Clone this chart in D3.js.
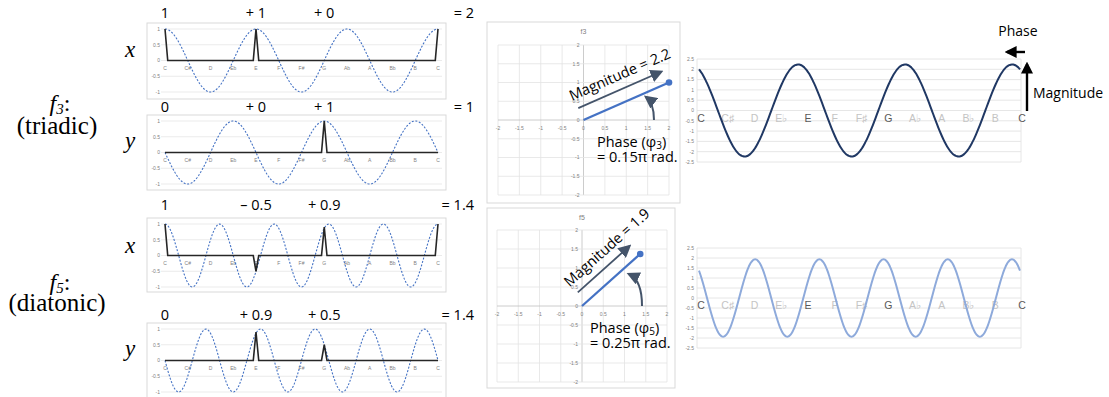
<!DOCTYPE html>
<html>
<head>
<meta charset="utf-8">
<script src="https://cdn.jsdelivr.net/npm/d3@7"></script>
<style>
  body { margin: 0; background: #fff; }
  svg { display: block; }
</style>
</head>
<body>
<svg id="fig" width="1109" height="397"></svg>
<script>
// ---- data ----
const notes = ["C","C#","D","Eb","E","F","F#","G","Ab","A","Bb","B","C"];
const noteNames = ["C","C\u266F","D","E\u266D","E","F","F\u266F","G","A\u266D","A","B\u266D","B","C"];
const chordTones = ["C","E","G"];

// pitch-class weights at each note (the black spikes)
const f3x = [1,0,0,0,1,0,0,0,0,0,0,0,1];
const f3y = [0,0,0,0,0,0,0,1,0,0,0,0,0];
const f5x = [1,0,0,0,-0.5,0,0,0.9,0,0,0,0,1];
const f5y = [0,0,0,0,0.9,0,0,0.5,0,0,0,0,0];

// the sums written over each panel
const f3xTerms = ["1","+ 1","+ 0","= 2"];
const f3yTerms = ["0","+ 0","+ 1","= 1"];
const f5xTerms = ["1","\u2013 0.5","+ 0.9","= 1.4"];
const f5yTerms = ["0","+ 0.9","+ 0.5","= 1.4"];

// resulting Fourier vectors (x, y)
const f3vec = [2, 1];
const f5vec = [1.37, 1.37];
const magLabels = ["2.2", "1.9"];
const phaseLabels = ["0.15\u03C0", "0.25\u03C0"];

const panelTicks = [1, 0.5, 0, -0.5, -1];
const planeTicks = [-2, -1.5, -1, -0.5, 0, 0.5, 1, 1.5, 2];
const waveTicks = [2.5, 2, 1.5, 1, 0.5, 0, -0.5, -1, -1.5, -2, -2.5];

const svg = d3.select("#fig");
const sans = "'Open Sans', Lato, sans-serif";
const small = "'Liberation Sans', Arial, sans-serif";
const serif = "'Liberation Serif', 'DejaVu Serif', serif";
const slate = "#44546a";

// arrow markers
const defs = svg.append("defs");
function marker(id, color, size) {
  defs.append("marker")
    .attr("id", id)
    .attr("viewBox", "0 -5 10 10")
    .attr("refX", 8).attr("refY", 0)
    .attr("markerUnits", "userSpaceOnUse")
    .attr("markerWidth", size).attr("markerHeight", size)
    .attr("orient", "auto")
    .append("path").attr("d", "M0,-5L10,0L0,5Z").attr("fill", color);
}
marker("headSlate", slate, 13);
marker("headBlack", "#000", 12);

// ---- left: the four spike panels ----
const xNote = d3.scaleLinear().domain([0, 12]).range([165, 438]);

function spikePoints(vals) {
  const pts = [];
  vals.forEach((v, k) => {
    if (v !== 0) {
      if (k > 0) pts.push([k - 0.12, 0]);
      pts.push([k, v]);
      if (k < 12) pts.push([k + 0.12, 0]);
    } else {
      pts.push([k, 0]);
    }
  });
  return pts;
}

function drawPanel(top, h, vals, freq, comp, terms, termBase) {
  const g = svg.append("g");
  const y = d3.scaleLinear().domain([-1, 1]).range([top + 69, top + 6]);
  g.append("rect").attr("x", 147).attr("y", top).attr("width", 299).attr("height", h)
    .attr("fill", "#fff").attr("stroke", "#d9d9d9").attr("stroke-width", 1);

  g.selectAll(".grid").data(panelTicks).enter().append("line")
    .attr("x1", 161).attr("x2", 442)
    .attr("y1", d => y(d)).attr("y2", d => y(d))
    .attr("stroke", "#e6e6e6").attr("stroke-width", 0.8);

  g.selectAll(".ytl").data(panelTicks).enter().append("text")
    .attr("x", 160).attr("y", d => y(d) + 1.8)
    .attr("text-anchor", "end")
    .attr("font-family", small).attr("font-size", 5).attr("fill", "#7f7f7f")
    .text(d => d);

  g.selectAll(".xtl").data(notes).enter().append("text")
    .attr("x", (d, i) => xNote(i)).attr("y", y(0) + 9)
    .attr("text-anchor", "middle")
    .attr("font-family", small).attr("font-size", 5).attr("fill", "#7f7f7f")
    .text(d => d);

  const line = d3.line().x(d => xNote(d[0])).y(d => y(d[1]));
  const basis = d3.range(0, 12.0001, 0.04).map(t => {
    const a = 2 * Math.PI * freq * t / 12;
    return [t, comp === "cos" ? Math.cos(a) : -Math.sin(a)];
  });
  g.append("path").datum(basis).attr("d", line)
    .attr("fill", "none").attr("stroke", "#4472c4").attr("stroke-width", 1.1)
    .attr("stroke-dasharray", "2,1.6");

  g.append("path").datum(spikePoints(vals)).attr("d", line)
    .attr("fill", "none").attr("stroke", "#262626").attr("stroke-width", 1.6)
    .attr("stroke-linejoin", "miter");

  // terms for C, E, G and the total
  const termX = [xNote(0), xNote(4), xNote(7)];
  g.selectAll(".term").data(terms.slice(0, 3)).enter().append("text")
    .attr("x", (d, i) => termX[i]).attr("y", termBase)
    .attr("text-anchor", "middle")
    .attr("font-family", sans).attr("font-size", 14.5).attr("fill", "#000")
    .text(d => d);
  g.append("text").attr("x", 474).attr("y", termBase)
    .attr("text-anchor", "end")
    .attr("font-family", sans).attr("font-size", 14.5).attr("fill", "#000")
    .text(terms[3]);
}

drawPanel(23, 76, f3x, 3, "cos", f3xTerms, 18);
drawPanel(115, 75, f3y, 3, "sin", f3yTerms, 112);
drawPanel(218, 74, f5x, 5, "cos", f5xTerms, 210);
drawPanel(323, 78, f5y, 5, "sin", f5yTerms, 320);

// row labels
[[57, "x"], [148, "y"], [253, "x"], [356, "y"]].forEach(([yy, t]) => {
  svg.append("text").attr("x", 130).attr("y", yy).attr("text-anchor", "middle")
    .attr("font-family", serif).attr("font-style", "italic").attr("font-size", 23)
    .text(t);
});
[[111, 134, "3", "(triadic)"], [290, 311, "5", "(diatonic)"]].forEach(([y1, y2, sub, name]) => {
  const t = svg.append("text").attr("x", 60).attr("y", y1).attr("text-anchor", "middle")
    .attr("font-family", serif).attr("font-size", 24);
  t.append("tspan").attr("font-style", "italic").text("f");
  t.append("tspan").attr("font-style", "italic").attr("font-size", 15).attr("dy", 3).text(sub);
  t.append("tspan").attr("dy", -3).text(":");
  svg.append("text").attr("x", 57).attr("y", y2).attr("text-anchor", "middle")
    .attr("font-family", serif).attr("font-size", 25).text(name);
});

// ---- middle: the Fourier vectors in the plane ----
function drawPlane(cfg) {
  const g = svg.append("g");
  const x = d3.scaleLinear().domain([-2, 2]).range(cfg.xr);
  const y = d3.scaleLinear().domain([-2, 2]).range(cfg.yr);
  g.append("rect").attr("x", cfg.box[0]).attr("y", cfg.box[1])
    .attr("width", cfg.box[2] - cfg.box[0]).attr("height", cfg.box[3] - cfg.box[1])
    .attr("fill", "#fff").attr("stroke", "#d9d9d9");
  g.append("text").attr("x", x(0)).attr("y", cfg.box[1] + 12).attr("text-anchor", "middle")
    .attr("font-family", small).attr("font-size", 7).attr("fill", "#7f7f7f").text(cfg.title);

  g.selectAll(".vg").data(planeTicks).enter().append("line")
    .attr("x1", d => x(d)).attr("x2", d => x(d)).attr("y1", y(2)).attr("y2", y(-2))
    .attr("stroke", d => d === 0 ? "#bfbfbf" : "#e3e3e3").attr("stroke-width", 0.8);
  g.selectAll(".hg").data(planeTicks).enter().append("line")
    .attr("y1", d => y(d)).attr("y2", d => y(d)).attr("x1", x(-2)).attr("x2", x(2))
    .attr("stroke", d => d === 0 ? "#bfbfbf" : "#e3e3e3").attr("stroke-width", 0.8);

  g.selectAll(".xtl").data(planeTicks).enter().append("text")
    .attr("x", d => x(d)).attr("y", y(0) + 10).attr("text-anchor", "middle")
    .attr("font-family", small).attr("font-size", 5).attr("fill", "#7f7f7f").text(d => d);
  g.selectAll(".ytl").data(planeTicks).enter().append("text")
    .attr("x", x(0) - 4).attr("y", d => y(d) + 1.8).attr("text-anchor", "end")
    .attr("font-family", small).attr("font-size", 5).attr("fill", "#7f7f7f").text(d => d);

  const [vx, vy] = cfg.vec;
  g.append("line").attr("x1", x(0)).attr("y1", y(0)).attr("x2", x(vx)).attr("y2", y(vy))
    .attr("stroke", "#4472c4").attr("stroke-width", 2.3);
  g.append("circle").attr("cx", x(vx)).attr("cy", y(vy)).attr("r", 3.3).attr("fill", "#4472c4");

  // magnitude arrow, parallel to the vector
  const dx = x(vx) - x(0), dy = y(vy) - y(0);
  const len = Math.hypot(dx, dy), ux = dx / len, uy = dy / len;
  const px = uy * 13, py = -ux * 13; // perpendicular, towards upper left
  const sx = x(0) + px + ux * cfg.trim, sy = y(0) + py + uy * cfg.trim;
  g.append("line").attr("x1", sx).attr("y1", sy)
    .attr("x2", x(vx) + px - ux * 3).attr("y2", y(vy) + py - uy * 3)
    .attr("stroke", slate).attr("stroke-width", 1.8).attr("marker-end", "url(#headSlate)");
  const ang = Math.atan2(dy, dx) * 180 / Math.PI;
  g.append("text")
    .attr("transform", `translate(${sx},${sy}) rotate(${ang})`)
    .attr("x", -3).attr("y", -9)
    .attr("font-family", sans).attr("font-size", 14.5).attr("fill", "#000")
    .text("Magnitude = " + cfg.mag);

  // phase arrow
  const [a0, a1] = cfg.phaseArrow;
  g.append("path")
    .attr("d", `M${a0[0]},${a0[1]} Q${a0[0]},${a1[1] + 6} ${a1[0]},${a1[1]}`)
    .attr("fill", "none").attr("stroke", slate).attr("stroke-width", 2)
    .attr("marker-end", "url(#headSlate)");
  const t1 = g.append("text").attr("x", cfg.phaseText[0]).attr("y", cfg.phaseText[1])
    .attr("font-family", sans).attr("font-size", 14.5).attr("fill", "#000");
  t1.append("tspan").text("Phase (\u03C6");
  t1.append("tspan").attr("font-size", 10).attr("dy", 2).text(cfg.sub);
  t1.append("tspan").attr("dy", -2).text(")");
  g.append("text").attr("x", cfg.phaseText[0]).attr("y", cfg.phaseText[1] + 15)
    .attr("font-family", sans).attr("font-size", 14.5).attr("fill", "#000")
    .text("= " + cfg.phase + " rad.");
}

drawPlane({ box: [487, 22, 680, 203], xr: [498, 669], yr: [195, 45], title: "f3",
  vec: f3vec, mag: magLabels[0], phase: phaseLabels[0], sub: "3", trim: 0,
  phaseArrow: [[654, 120], [646, 97]], phaseText: [597, 147] });
drawPlane({ box: [487, 208, 675, 388], xr: [497, 667], yr: [382, 230], title: "f5",
  vec: f5vec, mag: magLabels[1], phase: phaseLabels[1], sub: "5", trim: 6,
  phaseArrow: [[642, 306], [629, 274]], phaseText: [590, 333] });

// ---- right: the resulting sinusoids ----
const xWave = d3.scaleLinear().domain([0, 12]).range([699, 1020]);
function drawWave(cfg) {
  const g = svg.append("g");
  const y = d3.scaleLinear().domain([-2.5, 2.5]).range([cfg.bottom, cfg.top]);
  g.selectAll(".hg").data(waveTicks).enter().append("line")
    .attr("x1", 697).attr("x2", 1021).attr("y1", d => y(d)).attr("y2", d => y(d))
    .attr("stroke", "#e3e3e3").attr("stroke-width", 0.9);
  [697, 1021].forEach(xx => g.append("line").attr("x1", xx).attr("x2", xx)
    .attr("y1", cfg.top).attr("y2", cfg.bottom).attr("stroke", "#e3e3e3").attr("stroke-width", 0.9));
  g.selectAll(".ytl").data(waveTicks).enter().append("text")
    .attr("x", 694).attr("y", d => y(d) + 1.8).attr("text-anchor", "end")
    .attr("font-family", small).attr("font-size", 5).attr("fill", "#7f7f7f").text(d => d);

  g.selectAll(".nl").data(noteNames).enter().append("text")
    .attr("x", (d, i) => xWave(i) + 2).attr("y", y(0) + 11).attr("text-anchor", "middle")
    .attr("font-family", small).attr("font-size", 10.5)
    .attr("fill", (d, i) => chordTones.includes(notes[i]) ? "#595959" : "#c4c4c4")
    .text(d => d);

  const [vx, vy] = cfg.vec;
  const M = Math.hypot(vx, vy), phi = Math.atan2(vy, vx);
  const pts = d3.range(0, 12.0001, 0.05).map(t => [t, M * Math.cos(2 * Math.PI * cfg.freq * t / 12 + phi)]);
  g.append("path").datum(pts)
    .attr("d", d3.line().x(d => xWave(d[0])).y(d => y(d[1])).curve(d3.curveBasis))
    .attr("fill", "none").attr("stroke", cfg.color).attr("stroke-width", 2);
}
drawWave({ top: 59, bottom: 162, vec: f3vec, freq: 3, color: "#203864" });
drawWave({ top: 248, bottom: 348, vec: f5vec, freq: 5, color: "#8eaadb" });

// phase / magnitude legend arrows
svg.append("text").attr("x", 1018).attr("y", 36).attr("text-anchor", "middle")
  .attr("font-family", sans).attr("font-size", 14).text("Phase");
svg.append("line").attr("x1", 1025).attr("y1", 52).attr("x2", 1007).attr("y2", 52)
  .attr("stroke", "#000").attr("stroke-width", 2.4).attr("marker-end", "url(#headBlack)");
svg.append("line").attr("x1", 1027).attr("y1", 111).attr("x2", 1027).attr("y2", 64)
  .attr("stroke", "#000").attr("stroke-width", 2.4).attr("marker-end", "url(#headBlack)");
svg.append("text").attr("x", 1033).attr("y", 98)
  .attr("font-family", sans).attr("font-size", 14).text("Magnitude");
</script>
</body>
</html>
